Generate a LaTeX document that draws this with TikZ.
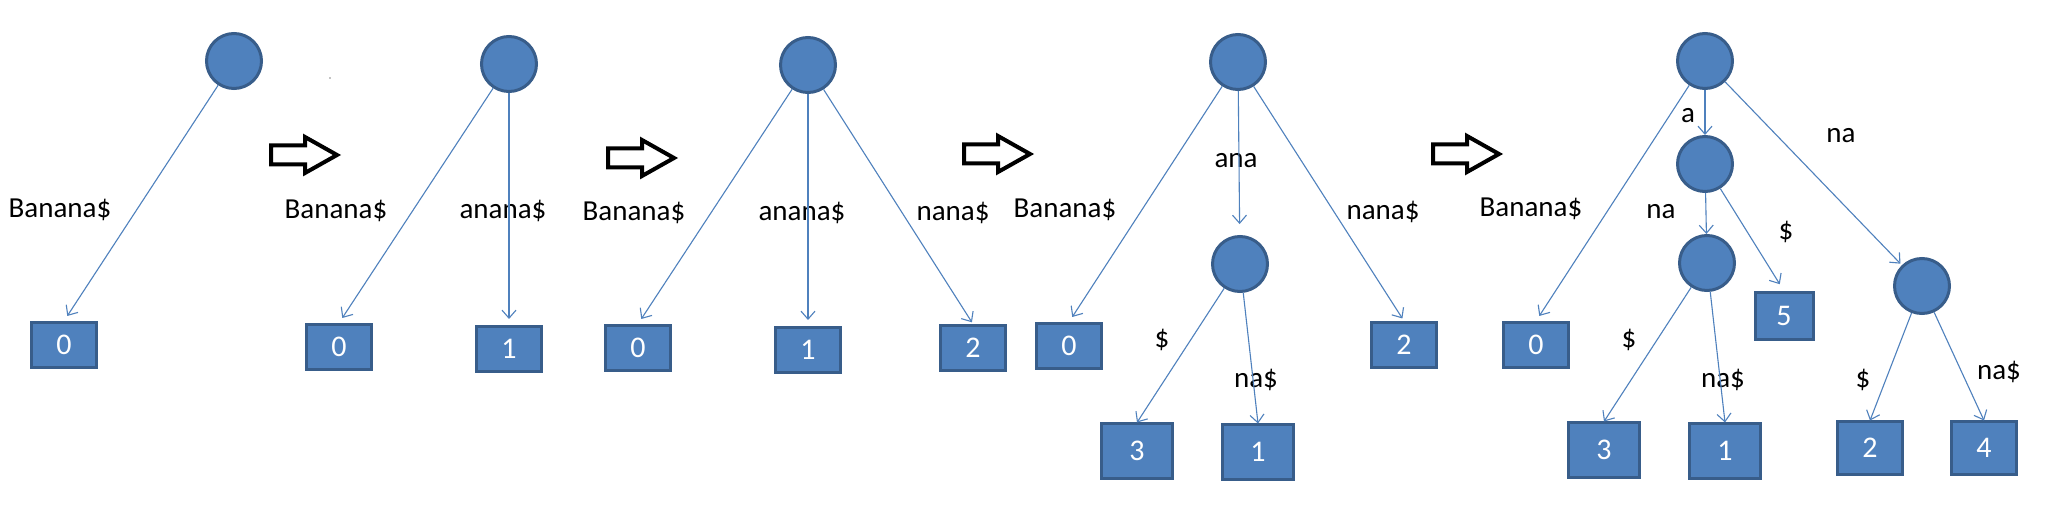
\documentclass[tikz,border=0pt]{standalone}
\usepackage{fontspec}
\setmainfont{Carlito}
\usetikzlibrary{arrows.meta}
\definecolor{nodeblue}{HTML}{4F81BD}
\definecolor{borderblue}{HTML}{385D8A}
\tikzset{
  inode/.style={circle, fill=nodeblue, draw=borderblue, line width=1.5pt, minimum size=27.5pt, inner sep=0pt},
  leaf/.style={rectangle, fill=nodeblue, draw=borderblue, line width=1.5pt, minimum width=32.5pt, minimum height=22.5pt, inner sep=0pt, text=white, font=\fontsize{15}{18}\selectfont},
  bigleaf/.style={leaf, minimum width=35.5pt, minimum height=27pt},
  midleaf/.style={leaf, minimum width=32.5pt, minimum height=26pt},
  smallleaf/.style={leaf, minimum width=29pt, minimum height=23.5pt},
  edge/.style={draw=nodeblue, line width=0.55pt, -{Straight Barb[length=4pt,width=7pt]}},
  lbl/.style={font=\fontsize{14.5}{17}\selectfont, inner sep=0pt},
  blockarrow/.style={draw=black, line width=2pt, fill=white, line join=miter}
}
\newcommand{\blockarr}[2]{%
  \draw[blockarrow] (#1,#2-9.5) -- (#1+34,#2-9.5) -- (#1+34,#2-18) -- (#1+66,#2)
    -- (#1+34,#2+18) -- (#1+34,#2+9.5) -- (#1,#2+9.5) -- cycle;}
\begin{document}
\begin{tikzpicture}[x=0.5pt,y=-0.5pt]
\useasboundingbox (0,0) rectangle (2058,518);
\fill[white] (0,0) rectangle (2058,518);

% ---------- Panel 1 ----------
\node[inode] (p1r) at (234,61) {};
\node[leaf] (p1b0) at (64,345) {0};
\node[lbl] (p1l0) at (60,210) {Banana\$};
\draw[edge, shorten >=3pt] (p1r) -- (p1b0.north);

\blockarr{271}{155}
\fill (330,78) circle (0.7);

% ---------- Panel 2 ----------
\node[inode] (p2r) at (509,64) {};
\node[leaf] (p2b0) at (339,347) {0};
\node[leaf] (p2b1) at (509,349) {1};
\node[lbl] (p2l0) at (336,211) {Banana\$};
\node[lbl] (p2l1) at (503,211) {anana\$};
\draw[edge, shorten >=3pt] (p2r) -- (p2b0.north);
\draw[edge, shorten >=3pt] (p2r) -- (p2b1.north);

\blockarr{608}{158}

% ---------- Panel 3 ----------
\node[inode] (p3r) at (808,65) {};
\node[leaf] (p3b0) at (638,348) {0};
\node[leaf] (p3b1) at (808,350) {1};
\node[leaf] (p3b2) at (973,348) {2};
\node[lbl] (p3l0) at (634,213) {Banana\$};
\node[lbl] (p3l1) at (802,213) {anana\$};
\node[lbl] (p3l2) at (953,213) {nana\$};
\draw[edge, shorten >=3pt] (p3r) -- (p3b0.north);
\draw[edge, shorten >=3pt] (p3r) -- (p3b1.north);
\draw[edge, shorten >=1pt] (p3r) -- (p3b2.north);

\blockarr{964}{154}

% ---------- Panel 4 ----------
\node[inode] (p4r) at (1238,62) {};
\node[inode] (p4m) at (1240,264) {};
\node[leaf] (p4b0) at (1069,346) {0};
\node[leaf] (p4b2) at (1404,345) {2};
\node[bigleaf] (p4b3) at (1137,451) {3};
\node[bigleaf] (p4b1) at (1258,452) {1};
\node[lbl] (p4l0) at (1065,210) {Banana\$};
\node[lbl] (p4la) at (1236,161) {ana};
\node[lbl] (p4l2) at (1383,212) {nana\$};
\node[lbl] (p4ld) at (1162,340) {\$};
\node[lbl] (p4ln) at (1256,380) {na\$};
\draw[edge, shorten >=3pt] (p4r) -- (p4b0.north);
\draw[edge, shorten >=5.5pt] (p4r) -- (p4m);
\draw[edge, shorten >=1.5pt] (p4r) -- (p4b2.north);
\draw[edge] (p4m) -- (p4b3.north);
\draw[edge] (p4m) -- (p4b1.north);

\blockarr{1433}{154}

% ---------- Panel 5 ----------
\node[inode] (p5r) at (1705,61) {};
\node[inode] (p5a) at (1705,164) {};
\node[inode] (p5b) at (1707,263) {};
\node[inode] (p5c) at (1922,286) {};
\node[leaf] (p5b0) at (1536,345) {0};
\node[smallleaf] (p5b5) at (1784,316) {5};
\node[bigleaf] (p5b3) at (1604,450) {3};
\node[bigleaf] (p5b1) at (1725,451) {1};
\node[midleaf] (p5b2) at (1870,448) {2};
\node[midleaf] (p5b4) at (1984,448) {4};
\node[lbl] (p5l0) at (1531,209) {Banana\$};
\node[lbl] (p5la) at (1688,116) {a};
\node[lbl] (p5lnr) at (1841,136) {na};
\node[lbl] (p5lnl) at (1661,212) {na};
\node[lbl] (p5ld5) at (1786,232) {\$};
\node[lbl] (p5ld3) at (1629,340) {\$};
\node[lbl] (p5ln1) at (1723,380) {na\$};
\node[lbl] (p5ld2) at (1863,380) {\$};
\node[lbl] (p5ln4) at (1999,372) {na\$};
\draw[edge, shorten >=3pt] (p5r) -- (p5b0.north);
\draw[edge] (p5r) -- (p5a);
\draw[edge, shorten >=1pt] (p5r) -- (p5c);
\draw[edge] (p5a) -- (p5b);
\draw[edge, shorten >=4pt] (p5a) -- (p5b5.north);
\draw[edge] (p5b) -- (p5b3.north);
\draw[edge] (p5b) -- (p5b1.north);
\draw[edge] (p5c) -- (p5b2.north);
\draw[edge] (p5c) -- (p5b4.north);
\end{tikzpicture}
\end{document}
